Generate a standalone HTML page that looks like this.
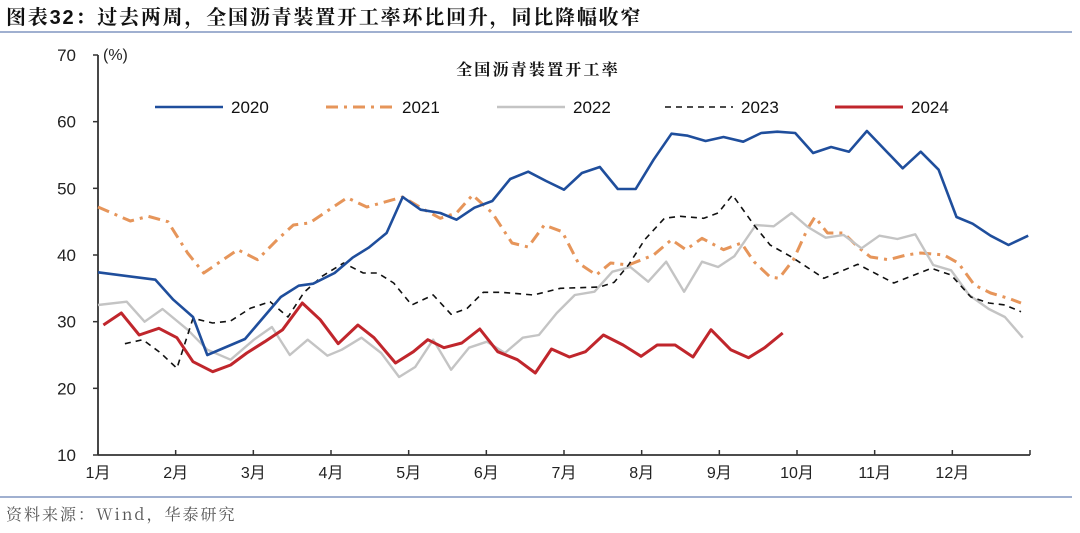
<!DOCTYPE html>
<html><head><meta charset="utf-8">
<style>
html,body{margin:0;padding:0;background:#fff;}
body{width:1080px;height:528px;overflow:hidden;font-family:"Liberation Sans","Noto Sans CJK SC",sans-serif;}
</style></head>
<body>
<svg id="chart" width="1080" height="528" xmlns="http://www.w3.org/2000/svg">
<text x="6" y="24" font-family="'Liberation Sans','Noto Serif CJK SC',serif" font-weight="bold" font-size="20" letter-spacing="1.8" fill="#111">图表32：过去两周，全国沥青装置开工率环比回升，同比降幅收窄</text>
<line x1="0" y1="32" x2="1072" y2="32" stroke="#8096c0" stroke-width="1.5"/>
<text x="538" y="75" text-anchor="middle" font-family="'Noto Serif CJK SC',serif" font-size="16" letter-spacing="2.2" font-weight="bold" fill="#111">全国沥青装置开工率</text>
<text x="103" y="60" font-size="16" fill="#222">(%)</text>
<g id="axes"></g>
<g id="legend"></g>
<g id="series"></g>
<line x1="0" y1="497" x2="1072" y2="497" stroke="#8096c0" stroke-width="1.5"/>
<text x="6" y="520" font-family="'Noto Serif CJK SC',serif" font-size="16" letter-spacing="2" fill="#555">资料来源：Wind，华泰研究</text>
</svg>
<script>
const yTicks=[10,20,30,40,50,60,70];
const months=["1月","2月","3月","4月","5月","6月","7月","8月","9月","10月","11月","12月"];
const years=["2020","2021","2022","2023","2024"];
const w2020=[0,3.2,4.2,5.3,6.1,8.2,10.2,11.2,12,13.2,14.2,15.1,16.1,17,18,19.1,20,21,22,23,24,25,26,27,28,29,30,31,32,32.9,33.9,34.9,36,37,37.9,38.9,39.9,40.9,41.9,42.9,44.9,45.9,46.9,47.9,48.8,49.8,50.8,51.9];
const v2020=[37.4,36.3,33.3,30.7,25.0,27.4,33.7,35.4,35.7,37.3,39.6,41.1,43.3,48.7,46.8,46.3,45.3,47.1,48.1,51.4,52.5,51.1,49.8,52.3,53.2,49.9,49.9,54.3,58.2,57.9,57.1,57.7,57.0,58.3,58.5,58.3,55.3,56.2,55.5,58.6,53.0,55.5,52.8,45.7,44.7,42.9,41.5,42.9];
const w2021=[0,1.8,2.8,3.9,5,5.9,7.8,8.9,10,10.9,11.8,13.9,15,17,18.2,19.1,20,20.9,22,23.1,24,24.9,25.9,26.8,27.8,28.6,29.6,31,32,32.8,33.7,34.9,35.9,36.6,37.5,38,38.8,39.6,40,40.7,41.6,42.4,43.1,44.1,45.1,45.9,47.2,48,48.9,49.8,50.8,51.5];
const v2021=[47.2,45.1,45.8,45.0,40.3,37.3,40.8,39.3,42.3,44.5,44.8,48.6,47.2,48.7,46.8,45.5,46.3,49.0,46.3,41.8,41.2,44.5,43.5,38.8,37.0,38.8,38.5,40.0,42.3,40.8,42.5,40.8,41.8,39.0,36.7,36.5,39.3,44.0,45.7,43.3,43.3,41.2,39.7,39.3,40.0,40.3,40.0,38.8,35.5,34.3,33.5,32.8];
const w2022=[0,1.6,2.6,3.6,5,6.1,7.4,8.7,9.7,10.7,11.7,12.8,13.6,14.7,15.8,16.8,17.7,18.7,19.7,20.7,21.7,22.7,23.7,24.6,25.6,26.6,27.7,28.7,29.7,30.7,31.7,32.7,33.7,34.6,35.5,36.7,37.7,38.7,39.6,40.6,41.6,42.6,43.6,44.6,45.6,46.6,47.6,48.6,49.7,50.6,51.6];
const v2022=[32.5,33.0,30.0,31.9,28.8,25.8,24.3,27.3,29.2,25.0,27.3,24.9,25.8,27.6,25.3,21.7,23.2,27.3,22.8,26.1,27.0,25.3,27.6,28.0,31.3,34.0,34.5,37.5,38.2,36.0,39.0,34.5,39.0,38.2,39.8,44.5,44.3,46.3,44.2,42.6,43.0,41.0,42.9,42.4,43.1,38.5,37.7,34.0,31.9,30.7,27.6];
const w2023=[1.5,2.5,3.5,4.4,5.3,6.4,7.4,8.5,9.6,10.6,11.5,12.5,13.7,14.8,15.6,16.5,17.5,18.7,19.7,20.6,21.5,22.5,24.3,25.8,28,28.8,29.6,30.5,31.6,32.5,33.8,34.6,35.4,36.6,37.5,38.7,40.5,42.4,44.4,46.5,47.6,48.7,49.7,50.6,51.5];
const v2023=[26.7,27.3,25.3,23.0,30.5,29.8,30.1,32.0,33.0,30.7,34.4,36.8,38.8,37.3,37.3,35.8,32.5,34.0,31.1,32.0,34.4,34.4,34.0,35.0,35.2,35.9,38.5,42.3,45.5,45.8,45.5,46.3,49.0,44.5,41.5,39.7,36.5,38.6,35.8,38.0,37.0,33.7,32.8,32.5,31.5];
const w2024=[0.3,1.3,2.3,3.4,4.4,5.3,6.4,7.4,8.3,9.3,10.3,11.4,12.4,13.4,14.5,15.4,16.6,17.6,18.4,19.3,20.3,21.3,22.3,23.4,24.4,25.3,26.3,27.2,28.2,29.3,30.3,31.2,32.2,33.2,34.2,35.3,36.3,37.2,38.2];
const v2024=[29.5,31.3,28.0,29.0,27.6,24.0,22.5,23.5,25.3,27.0,28.8,32.8,30.3,26.7,29.5,27.6,23.8,25.5,27.3,26.1,26.8,28.9,25.5,24.3,22.3,25.9,24.7,25.5,28.0,26.5,24.8,26.5,26.5,24.7,28.8,25.8,24.6,26.1,28.3];

const NS="http://www.w3.org/2000/svg";
const X0=98,X1=1030,Y0=455,Y1=55,WEEKS=52,VMIN=10,VMAX=70;
const xScale=w=>X0+w*(X1-X0)/WEEKS;
const monthX=i=>X0+i*(X1-X0)/12;
const yScale=v=>Y0-(v-VMIN)*(Y0-Y1)/(VMAX-VMIN);
function mk(tag,attrs,parent){const e=document.createElementNS(NS,tag);for(const k in attrs)e.setAttribute(k,attrs[k]);parent.appendChild(e);return e;}

const axes=document.getElementById('axes');
let yAxis=mk('line',{x1:X0,y1:Y1,x2:X0,y2:Y0,stroke:'#333','stroke-width':1.8},axes);


let xAxis=mk('line',{x1:X0,y1:Y0,x2:X1,y2:Y0,stroke:'#333','stroke-width':1.8},axes);


yTicks.forEach(v=>{
  const y=yScale(v);
  let t=mk('line',{x1:X0-5,y1:y,x2:X0,y2:y,stroke:'#333','stroke-width':1.5},axes);
  
  
  let l=mk('text',{x:X0-22,y:y+6,'text-anchor':'end','font-size':17,fill:'#222'},axes);
  l.textContent=v;
  
  
});
for(let i=0;i<=12;i++){
  const x=monthX(i);
  let t=mk('line',{x1:x,y1:Y0,x2:x,y2:Y0-5,stroke:'#333','stroke-width':1.5},axes);
  
  
  if(i<12){
    let l=mk('text',{x:x,y:Y0+23,'text-anchor':'middle','font-size':16,fill:'#222'},axes);
    l.textContent=months[i];
    
    
  }
}

const styles=[
 {c:'#1f4e9c',w:2.6,d:''},
 {c:'#e6955a',w:3,d:'12 6 3 6'},
 {c:'#c4c4c4',w:2.4,d:''},
 {c:'#111',w:1.6,d:'6 5'},
 {c:'#c0262c',w:3,d:''}];
const xs=[w2020,w2021,w2022,w2023,w2024], vs=[v2020,v2021,v2022,v2023,v2024];
const seriesG=document.getElementById('series');
[1,2,3,0,4].forEach(i=>{
  const s=styles[i];
  const pts=xs[i].map((w,j)=>xScale(w).toFixed(1)+','+yScale(vs[i][j]).toFixed(1)).join(' ');
  let p=mk('polyline',{points:pts,fill:'none',stroke:s.c,'stroke-width':s.w,'stroke-dasharray':s.d,'stroke-linejoin':'round'},seriesG);
  
  
});
const lg=document.getElementById('legend');
const lx=[155,326,497,665,835];
years.forEach((yr,i)=>{
  const s=styles[i];
  let l=mk('line',{x1:lx[i],y1:107,x2:lx[i]+68,y2:107,stroke:s.c,'stroke-width':s.w,'stroke-dasharray':s.d},lg);
  
  
  let t=mk('text',{x:lx[i]+76,y:113,'font-size':17,fill:'#111'},lg);
  t.textContent=yr;
  
  
});
</script>
</body></html>
